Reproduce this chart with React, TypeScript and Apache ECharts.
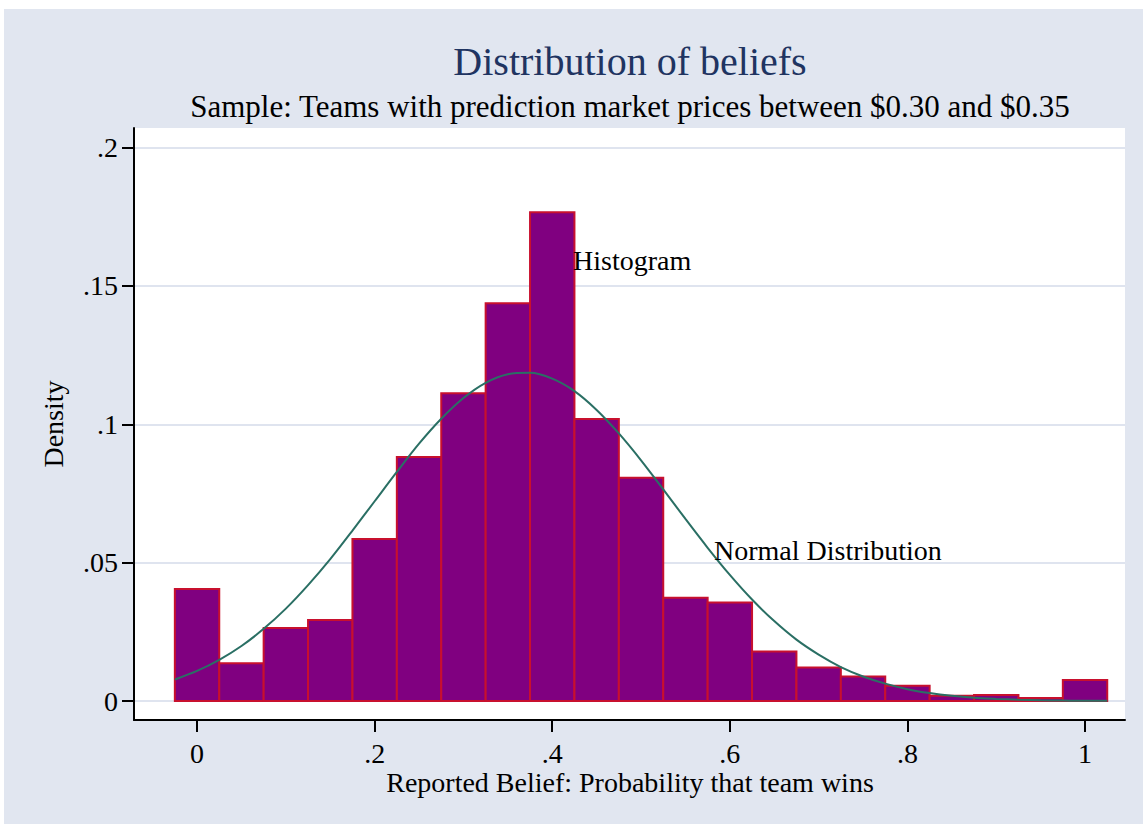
import React, { useEffect, useRef } from 'react';
import * as echarts from 'echarts';

// Histogram bins (centers) and heights
const binCenters = [0, 0.05, 0.1, 0.15, 0.2, 0.25, 0.3, 0.35, 0.4, 0.45, 0.5, 0.55, 0.6, 0.65, 0.7, 0.75, 0.8, 0.85, 0.9, 0.95, 1.0];
const densities = [0.0405, 0.0137, 0.0264, 0.0293, 0.0586, 0.0882, 0.1112, 0.1437, 0.1766, 0.1019, 0.0807, 0.0373, 0.0356, 0.0179, 0.0121, 0.0089, 0.0055, 0.0019, 0.0022, 0.0011, 0.0076];
const binWidth = 0.05;

// Normal distribution curve
const curveX = [-0.025, 0, 0.025, 0.05, 0.075, 0.1, 0.125, 0.15, 0.175, 0.2, 0.225, 0.25, 0.275, 0.3, 0.325, 0.35, 0.375, 0.4, 0.425, 0.45, 0.475, 0.5, 0.525, 0.55, 0.575, 0.6, 0.625, 0.65, 0.675, 0.7, 0.725, 0.75, 0.775, 0.8, 0.825, 0.85, 0.875, 0.9, 0.925, 0.95, 0.975, 1.0, 1.025];
const curveY = [0.0078, 0.0109, 0.0149, 0.0199, 0.0261, 0.0334, 0.0419, 0.0513, 0.0616, 0.0722, 0.0828, 0.093, 0.102, 0.1095, 0.115, 0.1181, 0.1186, 0.1165, 0.112, 0.1052, 0.0967, 0.087, 0.0765, 0.0658, 0.0554, 0.0456, 0.0367, 0.0289, 0.0222, 0.0168, 0.0123, 0.0089, 0.0063, 0.0043, 0.0029, 0.0019, 0.0012, 0.0008, 0.0005, 0.0003, 0.0002, 0.0001, 0.0001];

const xTicks = [0, 0.2, 0.4, 0.6, 0.8, 1];
const yTicks = [0, 0.05, 0.1, 0.15, 0.2];

const titleText = 'Distribution of beliefs';
const subtitleText = 'Sample: Teams with prediction market prices between $0.30 and $0.35';
const xName = 'Reported Belief: Probability that team wins';
const yName = 'Density';
const histLabel = 'Histogram';
const normLabel = 'Normal Distribution';

const FONT = "'Liberation Serif', 'Times New Roman', serif";

const fmt = (v: number) => {
  const s = String(+Number(v).toFixed(3));
  return s.startsWith('0.') ? s.slice(1) : s;
};

export default function App() {
  const ref = useRef<HTMLDivElement>(null);
  useEffect(() => {
    const chart = echarts.init(ref.current!, null, { renderer: 'svg' });
    chart.setOption({
      animation: false,
      backgroundColor: '#ffffff',
      grid: {
        left: 134,
        top: 128,
        width: 991,
        height: 592,
        show: true,
        backgroundColor: '#ffffff',
        borderWidth: 0,
      },
      xAxis: {
        type: 'value',
        min: -0.071,
        max: 1.045,
        axisLine: { show: true, onZero: false, lineStyle: { color: '#000', width: 2 } },
        axisTick: { show: true, length: 12, customValues: xTicks, lineStyle: { color: '#000', width: 2 } },
        axisLabel: {
          customValues: xTicks,
          formatter: fmt,
          color: '#000',
          fontSize: 28,
          lineHeight: 22,
          fontFamily: FONT,
          margin: 22,
        },
        splitLine: { show: false },
      },
      yAxis: {
        type: 'value',
        min: -0.00683,
        max: 0.20705,
        axisLine: { show: true, onZero: false, lineStyle: { color: '#000', width: 2 } },
        axisTick: { show: true, length: 12, customValues: yTicks, lineStyle: { color: '#000', width: 2 } },
        axisLabel: {
          customValues: yTicks,
          formatter: fmt,
          color: '#000',
          fontSize: 28,
          fontFamily: FONT,
          margin: 16,
        },
        splitLine: { show: true, lineStyle: { color: '#DFE4EF', width: 2 } },
      },
      graphic: [
        {
          type: 'rect',
          z: -100,
          silent: true,
          shape: { x: 4, y: 9, width: 1139, height: 815 },
          style: { fill: '#E1E6F0' },
        },
        {
          type: 'text',
          x: 630,
          y: 61,
          style: { text: titleText, fill: '#1F3461', fontSize: 40, fontFamily: FONT, textAlign: 'center', textVerticalAlign: 'middle' },
        },
        {
          type: 'text',
          x: 630,
          y: 106,
          style: { text: subtitleText, fill: '#000', fontSize: 31, fontFamily: FONT, textAlign: 'center', textVerticalAlign: 'middle' },
        },
        {
          type: 'text',
          x: 630,
          y: 782,
          style: { text: xName, fill: '#000', fontSize: 28, lineHeight: 22, fontFamily: FONT, textAlign: 'center', textVerticalAlign: 'middle' },
        },
        {
          type: 'text',
          x: 53,
          y: 424,
          rotation: Math.PI / 2,
          style: { text: yName, fill: '#000', fontSize: 28, fontFamily: FONT, textAlign: 'center', textVerticalAlign: 'middle' },
        },
        {
          type: 'text',
          x: 573,
          y: 260,
          z: 100,
          style: { text: histLabel, fill: '#000', fontSize: 28, fontFamily: FONT, textAlign: 'left', textVerticalAlign: 'middle' },
        },
        {
          type: 'text',
          x: 714,
          y: 550,
          z: 100,
          style: { text: normLabel, fill: '#000', fontSize: 28, fontFamily: FONT, textAlign: 'left', textVerticalAlign: 'middle' },
        },
      ],
      series: [
        {
          type: 'custom',
          name: 'Histogram',
          encode: { x: 0, y: 1 },
          data: binCenters.map((c, i) => [c, densities[i]]),
          renderItem: (params: any, api: any) => {
            const c = api.value(0);
            const v = api.value(1);
            const p0 = api.coord([c - binWidth / 2, v]);
            const p1 = api.coord([c + binWidth / 2, 0]);
            return {
              type: 'rect',
              shape: { x: p0[0], y: p0[1], width: p1[0] - p0[0], height: p1[1] - p0[1] },
              style: { fill: '#800080', stroke: '#C8102E', lineWidth: 2 },
            };
          },
          z: 2,
        },
        {
          type: 'line',
          name: 'Normal Distribution',
          data: curveX.map((x, i) => [x, curveY[i]]),
          smooth: 0.3,
          showSymbol: false,
          lineStyle: { color: '#2A6F64', width: 2 },
          z: 3,
        },
      ],
    });
    return () => chart.dispose();
  }, []);
  return <div ref={ref} style={{ position: 'fixed', left: 0, top: 0, width: 1143, height: 824 }} />;
}
